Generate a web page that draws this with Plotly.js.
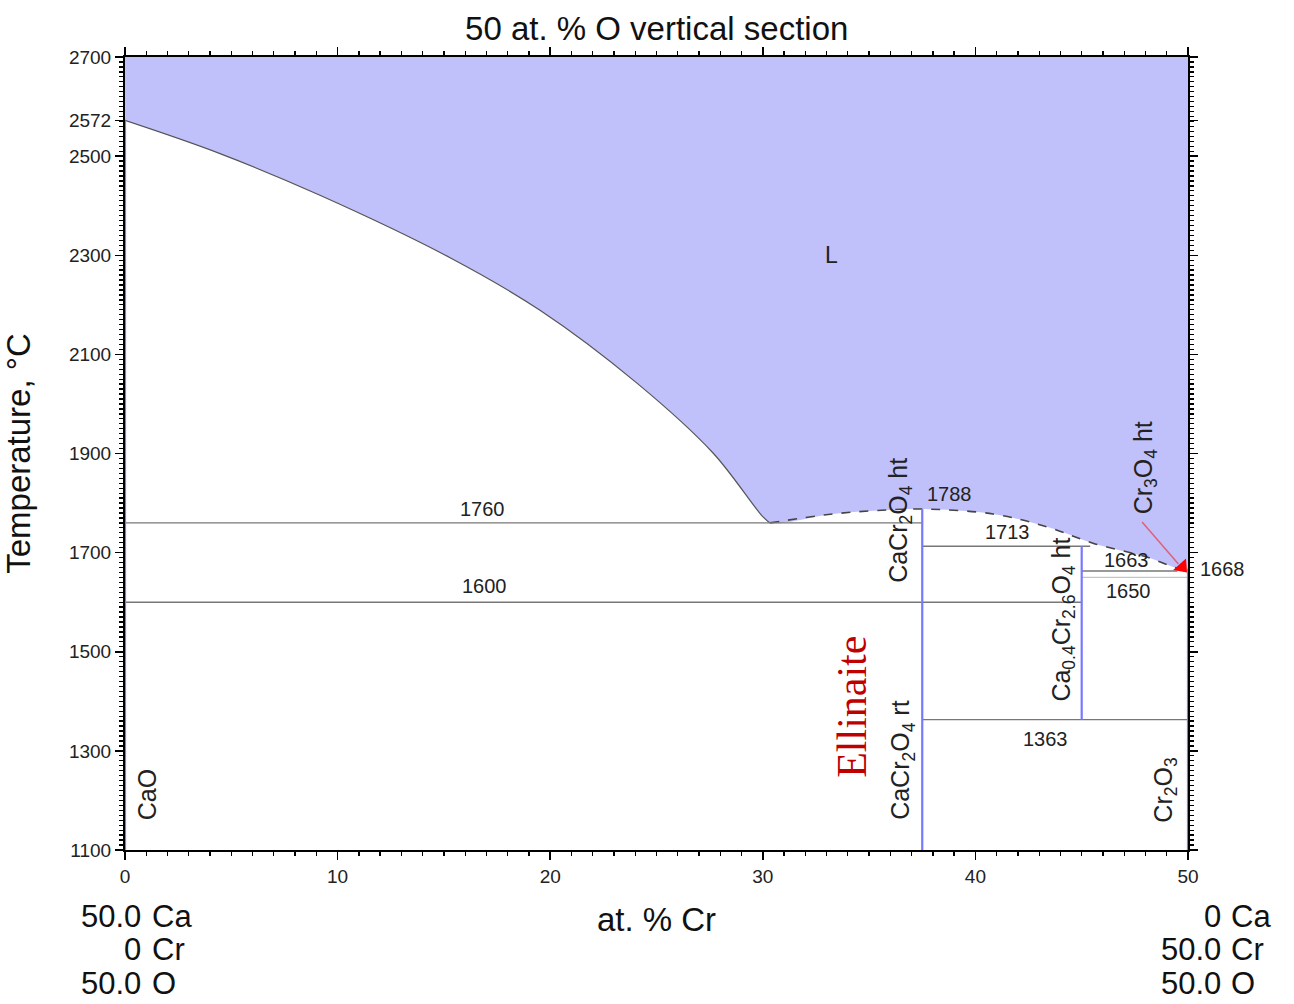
<!DOCTYPE html>
<html>
<head>
<meta charset="utf-8">
<script src="https://cdn.plot.ly/plotly-3.0.1.min.js"></script>
<style>html,body{margin:0;padding:0;background:#fff;}#chart{width:1294px;height:1004px;}</style>
</head>
<body>
<div id="chart"></div>
<script>
// ---- Liquidus (solid part, CaO side) ----
const liqX = [0, 4.47, 9.17, 15.29, 19.52, 24.08, 27.66, 30.01, 30.34];
const liqT = [2572, 2505, 2421, 2295, 2189, 2042, 1901, 1772, 1760];
// ---- Liquidus (dashed part, Cr-rich side) ----
const dashX = [30.34, 33.3, 35.8, 37.5, 40.83, 43.37, 45.53, 48.07, 49.48, 50];
const dashT = [1760, 1778, 1786, 1788, 1778, 1752, 1719, 1691, 1669, 1668];
// ---- Isotherms ----
const isoT  = [1760, 1600, 1713, 1663, 1650, 1363];
const isoX0 = [0, 0, 37.5, 45, 45, 37.5];
const isoX1 = [37.5, 45, 45.4, 49.5, 50, 50];
const isoLight = [false, false, false, false, true, false];
// ---- Compound (vertical) lines ----
const phaseX  = [0, 37.5, 45, 50];
const phaseT0 = [1100, 1100, 1363, 1100];
const phaseT1 = [2572, 1788, 1713, 1668];
// ---- Cr3O4 ht pointer ----
const ptrX = [47.84, 49.55];
const ptrT = [1762, 1677];
const triX = [49.72];
const triT = [1671];
// ---- Isotherm labels ----
const numText = ['1760', '1600', '1788', '1713', '1663', '1650', '1363'];
const numX = [16.8, 16.9, 38.8, 41.5, 47.1, 47.2, 43.3];
const numT = [1788, 1633, 1818, 1742, 1685, 1623, 1324];
// ---- Phase labels (rotated) ----
const phText = ['CaO', 'CaCr<sub>2</sub>O<sub>4</sub> ht', 'CaCr<sub>2</sub>O<sub>4</sub> rt',
                'Ca<sub>0.4</sub>Cr<sub>2.6</sub>O<sub>4</sub> ht', 'Cr<sub>3</sub>O<sub>4</sub> ht', 'Cr<sub>2</sub>O<sub>3</sub>'];
const phX = [1.05, 36.45, 36.55, 44.1, 47.95, 48.9];
const phT = [1211, 1766, 1282, 1564, 1871, 1221];
// ---- Axis ticks ----
const yTicks = [1100, 1300, 1500, 1700, 1900, 2100, 2300, 2500, 2572, 2700];
const xTicks = [0, 10, 20, 30, 40, 50];
// ---- End-member compositions ----
const leftNums = ['50.0', '0', '50.0'];
const rightNums = ['0', '50.0', '50.0'];
const elems = ['Ca', 'Cr', 'O'];

const FONT = 'Arial, "Liberation Sans", sans-serif';
const traces = [];

// Liquid field fill: between a top edge at the axis maximum and the liquidus (spline)
const fullX = liqX.concat(dashX.slice(1));
const fullT = liqT.concat(dashT.slice(1));
traces.push({x: [0, 50], y: [2700, 2700], mode: 'lines', line: {width: 0, color: 'rgba(0,0,0,0)'},
  hoverinfo: 'skip', showlegend: false});
traces.push({x: fullX, y: fullT, mode: 'lines', fill: 'tonexty', fillcolor: 'rgb(192,192,250)',
  line: {width: 0, color: 'rgba(0,0,0,0)', shape: 'spline', smoothing: 1}, hoverinfo: 'skip', showlegend: false});
// Liquidus lines
traces.push({x: liqX, y: liqT, mode: 'lines', line: {color: '#555', width: 1.2, shape: 'spline', smoothing: 1}, showlegend: false});
traces.push({x: dashX, y: dashT, mode: 'lines', line: {color: '#444', width: 1.6, dash: 'dash', shape: 'spline', smoothing: 1}, showlegend: false});
// Isotherms
for (let i = 0; i < isoT.length; i++) {
  traces.push({x: [isoX0[i], isoX1[i]], y: [isoT[i], isoT[i]], mode: 'lines',
    line: {color: isoLight[i] ? '#c4c4c4' : '#777', width: 1.4}, showlegend: false});
}
// Compound lines
for (let i = 0; i < phaseX.length; i++) {
  traces.push({x: [phaseX[i], phaseX[i]], y: [phaseT0[i], phaseT1[i]], mode: 'lines',
    line: {color: 'rgb(120,120,255)', width: 2.2}, showlegend: false});
}
// Pointer
traces.push({x: ptrX, y: ptrT, mode: 'lines', line: {color: '#e0607a', width: 1.5}, showlegend: false});
traces.push({x: triX, y: triT, mode: 'markers', marker: {symbol: 'triangle-up', size: 15, color: '#ff0000', angle: 138},
  showlegend: false, cliponaxis: false});

const ann = [];
for (let i = 0; i < numText.length; i++) {
  ann.push({x: numX[i], y: numT[i], xref: 'x', yref: 'y', text: numText[i], showarrow: false,
    font: {family: FONT, size: 20, color: '#222'}});
}
ann.push({x: 50, y: 1667, xref: 'x', yref: 'y', text: '1668', showarrow: false, xanchor: 'left', xshift: 10,
  font: {family: FONT, size: 20, color: '#222'}});
for (let i = 0; i < phText.length; i++) {
  ann.push({x: phX[i], y: phT[i], xref: 'x', yref: 'y', text: phText[i], showarrow: false, textangle: -90,
    font: {family: FONT, size: 25, color: '#222'}});
}
ann.push({x: 33.25, y: 2300, xref: 'x', yref: 'y', text: 'L', showarrow: false,
  font: {family: FONT, size: 23, color: '#222'}});
ann.push({x: 34.2, y: 1389, xref: 'x', yref: 'y', text: 'Ellinaite', showarrow: false, textangle: -90,
  font: {family: '"Liberation Serif", "Times New Roman", serif', size: 42, color: '#c00000'}});
// End-member compositions
const rowY = [-0.084, -0.126, -0.168];
for (let i = 0; i < 3; i++) {
  ann.push({x: 0.0171, y: rowY[i], xref: 'paper', yref: 'paper', text: leftNums[i], showarrow: false,
    xanchor: 'right', yanchor: 'middle', font: {family: FONT, size: 31, color: '#111'}});
  ann.push({x: 0.0235, y: rowY[i], xref: 'paper', yref: 'paper', text: elems[i], showarrow: false,
    xanchor: 'left', yanchor: 'middle', font: {family: FONT, size: 31, color: '#111'}});
  ann.push({x: 1.0329, y: rowY[i], xref: 'paper', yref: 'paper', text: rightNums[i], showarrow: false,
    xanchor: 'right', yanchor: 'middle', font: {family: FONT, size: 31, color: '#111'}});
  ann.push({x: 1.0385, y: rowY[i], xref: 'paper', yref: 'paper', text: elems[i], showarrow: false,
    xanchor: 'left', yanchor: 'middle', font: {family: FONT, size: 31, color: '#111'}});
}

const axisCommon = {
  showgrid: false, zeroline: false, showline: true, linecolor: '#000', linewidth: 2,
  mirror: 'allticks', ticks: 'outside', ticklen: 8, tickwidth: 1.5, tickcolor: '#000',
  tickfont: {family: FONT, size: 19, color: '#222'}
};

const layout = {
  width: 1294, height: 1004,
  margin: {l: 125, r: 106, t: 57, b: 154},
  paper_bgcolor: '#fff', plot_bgcolor: '#fff',
  showlegend: false,
  title: {text: '50 at. % O vertical section', x: 0.5075, xanchor: 'center', y: 0.972, yanchor: 'middle',
    font: {family: FONT, size: 33, color: '#111'}},
  xaxis: Object.assign({}, axisCommon, {
    range: [0, 50], tickmode: 'array', tickvals: xTicks, ticktext: xTicks.map(String),
    minor: {tickmode: 'linear', tick0: 0, dtick: 1, ticks: 'outside', ticklen: 4, tickwidth: 1.3, tickcolor: '#000'},
    title: {text: 'at. % Cr', standoff: 22, font: {family: FONT, size: 33, color: '#111'}}
  }),
  yaxis: Object.assign({}, axisCommon, {
    range: [1100, 2700], tickmode: 'array', tickvals: yTicks, ticktext: yTicks.map(String),
    minor: {tickmode: 'linear', tick0: 1100, dtick: 10, ticks: 'outside', ticklen: 4, tickwidth: 1.3, tickcolor: '#000'},
    title: {text: 'Temperature, °C', standoff: 28, font: {family: FONT, size: 33, color: '#111'}}
  }),
  annotations: ann
};

Plotly.newPlot('chart', traces, layout, {displayModeBar: false, staticPlot: true});
</script>
</body>
</html>
